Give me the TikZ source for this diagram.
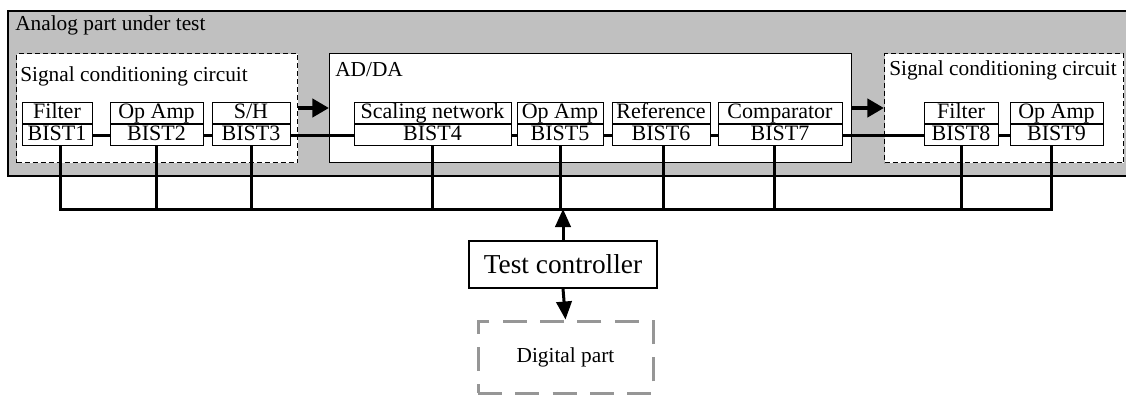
\documentclass[tikz,border=0pt]{standalone}
\usepackage{fontspec}
\setmainfont{Liberation Serif}
\usetikzlibrary{arrows.meta,calc}
\definecolor{partgray}{RGB}{192,192,192}
\definecolor{diggray}{RGB}{150,150,150}

% two-row test block: name, left x, right x, function, BIST label
\newcommand\bistblk[5]{%
  \node[cell, anchor=south, minimum width={0.75pt*(#3-#2)}] (#1u) at ({(#2+#3)/2},124) {#4};
  \node[cell, anchor=north, minimum width={0.75pt*(#3-#2)}] (#1) at ({(#2+#3)/2},124) {#5};
}

\begin{document}
\begin{tikzpicture}[x=0.75pt,y=-0.75pt,
  txt/.style={font=\fontsize{16}{16}\selectfont, inner sep=0pt},
  cell/.style={draw, line width=0.75pt, fill=white, inner sep=0pt,
    minimum height=15.75pt, text height=11.2pt, text depth=3.4pt,
    font=\fontsize{16.5}{16.5}\selectfont},
  framebox/.style={draw, line width=0.75pt, fill=white, inner sep=0pt, anchor=north west},
  dashbox/.style={framebox, dash pattern=on 3.75pt off 2.25pt},
  wire/.style={line width=2.25pt},
  bigarrow/.style={line width=3.4pt, -{Triangle[length=12.5pt,width=13.5pt]}},
  ctrlarrow/.style={line width=2.25pt, -{Triangle[length=13.5pt,width=11.5pt]}}]

\useasboundingbox (0,0) rectangle (1126,396);
\clip (0,0) rectangle (1126,396);

% analog part under test (runs past the right edge)
\node[draw, fill=partgray, line width=1.5pt, inner sep=0pt, anchor=north west,
  minimum width={0.75pt*1250}, minimum height={0.75pt*165}] (apt) at (7,10) {};
\node[txt, anchor=base west] (aptl) at (15,30) {Analog part under test};

% sub-circuits
\node[dashbox, minimum width={0.75pt*281}, minimum height={0.75pt*109}] (lsc) at (16,53) {};
\node[txt, anchor=base west] (lscl) at (20,81) {Signal conditioning circuit};
\node[framebox, minimum width={0.75pt*522}, minimum height={0.75pt*109}] (adda) at (329,53) {};
\node[txt, anchor=base west] (addal) at (335,76) {AD/DA};
\node[dashbox, minimum width={0.75pt*239}, minimum height={0.75pt*109}] (rsc) at (884,53) {};
\node[txt, anchor=base west] (rscl) at (889,75) {Signal conditioning circuit};

% test blocks
\bistblk{b1}{22}{92}{Filter}{BIST1}
\bistblk{b2}{110}{203}{Op Amp}{BIST2}
\bistblk{b3}{212}{290}{S/H}{BIST3}
\bistblk{b4}{354}{511}{Scaling network}{BIST4}
\bistblk{b5}{517}{603}{Op Amp}{BIST5}
\bistblk{b6}{612}{710}{Reference}{BIST6}
\bistblk{b7}{718}{842}{Comparator}{BIST7}
\bistblk{b8}{924}{998}{Filter}{BIST8}
\bistblk{b9}{1010}{1103}{Op Amp}{BIST9}

% signal chain
\draw[wire] (b1.east) -- (b2.west);
\draw[wire] (b2.east) -- (b3.west);
\draw[wire] (b3.east) -- (b4.west);
\draw[wire] (b4.east) -- (b5.west);
\draw[wire] (b5.east) -- (b6.west);
\draw[wire] (b6.east) -- (b7.west);
\draw[wire] (b7.east) -- (b8.west);
\draw[wire] (b8.east) -- (b9.west);

\draw[bigarrow] (lsc.east) -- (adda.west);
\draw[bigarrow] (adda.east) -- (rsc.west);

% test bus
\coordinate (bus) at (0,209);
\coordinate (t1) at ([xshift=2.25pt]b1.south);
\coordinate (t6) at ([xshift=1.5pt]b6.south);
\coordinate (t7) at ([xshift=-4.5pt]b7.south);
\coordinate (t9) at ([xshift=-4pt]b9.south);
\draw[wire] (t1) |- (bus -| t9) -- (t9);
\foreach \t in {b2.south,b3.south,b4.south,b5.south,t6,t7,b8.south}
  \draw[wire] (\t) -- (bus -| \t);

% controller and digital part
\node[draw, line width=1pt, inner sep=0pt, minimum width={0.75pt*188},
  minimum height={0.75pt*47}, font=\fontsize{20.5}{20.5}\selectfont] (ctrl) at (563,264.5) {Test controller};
\node[draw=diggray, line width=2.25pt, dash pattern=on 18pt off 10pt, inner sep=0pt,
  minimum width={0.75pt*175}, minimum height={0.75pt*72}, font=\fontsize{16}{16}\selectfont] (dig) at (565.5,357) {Digital part};
\draw[ctrlarrow] (ctrl.north) -- (bus -| ctrl.north);
\draw[ctrlarrow] (ctrl.south) -- (dig.north);
\end{tikzpicture}
\end{document}
